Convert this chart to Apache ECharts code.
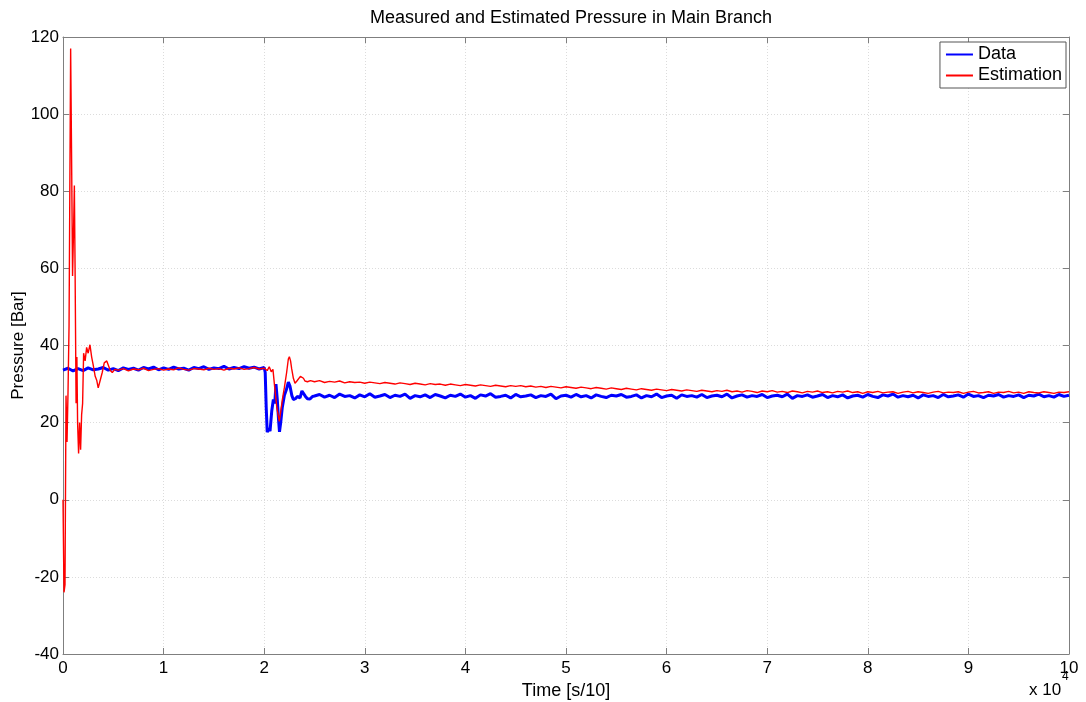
<!DOCTYPE html>
<html>
<head>
<meta charset="utf-8">
<script src="https://cdn.jsdelivr.net/npm/echarts@6/dist/echarts.min.js"></script>
<style>
  html, body { margin: 0; padding: 0; background: #fff; }
  #chart { width: 1086px; height: 702px; }
</style>
</head>
<body>
<div id="chart"></div>
<script>
// sample step for the regular stretches [s/10]
const STEP = 500;

// measured data: steady part before the switch (t = 0 .. 20000)
const dataSteadyA = [33.6, 34.1, 33.4, 34.0, 33.5, 34.2, 33.7, 33.9, 34.3, 33.6, 34.0, 33.5, 34.2, 33.8,
  34.1, 33.6, 34.3, 33.9, 34.4, 33.7, 34.2, 33.8, 34.4, 33.9, 34.1, 33.6, 34.3, 34.0, 34.5, 33.8, 34.2,
  34.0, 34.6, 33.9, 34.3, 34.0, 34.5, 34.1, 34.4, 33.9, 34.3];

// measured data: transient around t = 2e4
const dataTransT = [20100, 20200, 20300, 20450, 20580, 20750, 20910, 21050, 21170, 21300, 21420, 21520,
  21640, 21800, 22000, 22200, 22400, 22560, 22750, 22900, 23100, 23300, 23560, 23750, 23890, 24100,
  24300, 24550, 24800];
const dataTransP = [33.0, 24, 17.5, 18.5, 17.8, 23, 26, 25, 30, 26, 21, 17.6,
  20, 24, 27, 28.5, 30.5, 29.5, 27, 26, 26.2, 26.8, 26.4, 28.2, 28, 26.8,
  26.2, 26.1, 26.8];

// measured data: steady part after the switch (t = 25000 .. 100000)
const dataSteadyB = [26.9, 27.3, 26.6, 27.1, 26.5, 27.4, 26.8, 27.0, 26.4, 27.2, 26.7, 27.5, 26.6, 26.9, 27.3, 26.5, 27.1, 26.8, 27.4, 26.3,
  27.0, 26.7, 27.2, 26.5, 27.3, 26.9, 26.4, 27.1, 26.8, 27.4, 26.6, 27.0, 26.3, 27.2, 26.9, 27.5, 26.6, 26.8, 27.1, 26.4,
  27.3, 26.7, 26.9, 27.2, 26.5, 27.0, 26.8, 27.4, 26.2, 26.9, 27.1, 26.6, 27.3, 26.7, 27.0, 26.4, 27.2, 26.8, 26.5, 27.1,
  26.9, 27.3, 26.6, 26.8, 27.2, 26.4, 27.0, 26.7, 27.4, 26.5, 26.9, 27.1, 26.3, 27.2, 26.8, 27.0, 26.6, 27.3, 26.5, 26.9,
  27.1, 26.7, 27.4, 26.4, 26.9, 27.2, 26.6, 27.0, 26.8, 27.3, 26.5, 26.9, 27.1, 26.7, 27.4, 26.3, 27.0, 26.8, 27.2, 26.6,
  26.9, 27.3, 26.5, 27.0, 26.7, 27.2, 26.4, 26.9, 27.1, 26.6, 27.3, 26.8, 26.5, 27.2, 26.9, 27.4, 26.6, 27.0, 26.7, 27.1,
  26.4, 27.2, 26.8, 27.0, 26.5, 27.3, 26.7, 26.9, 27.2, 26.6, 27.4, 26.8, 27.0, 26.5, 27.1, 26.9, 27.3, 26.6, 27.0, 26.8,
  27.2, 26.5, 27.1, 26.9, 27.4, 26.7, 27.0, 26.6, 27.3, 26.8, 27.1];

// estimation: start-up oscillation
const estStartT = [0, 100, 200, 300, 400, 500, 600, 760, 850, 950, 1050, 1130, 1200, 1300, 1380, 1450,
  1550, 1650, 1750, 1850, 1950, 2050, 2200, 2350, 2500, 2680, 2850, 3000, 3200, 3350, 3500, 3700,
  3900, 4100, 4350, 4500, 4700, 4900, 5150];
const estStartP = [0, -24, -22, 27, 15, 28, 45, 117, 90, 58, 70, 81.5, 60, 25, 37, 20,
  12, 20, 13, 22, 25, 38, 36, 39.5, 38, 40.2, 37, 35, 32, 31, 29, 31,
  33, 35.5, 36, 35.5, 33.5, 33, 33.8];

// estimation: steady part (t = 5500 .. 20000)
const estSteadyA = [33.6, 34.0, 33.4, 33.9, 33.7, 34.1, 33.5, 33.8, 34.0, 33.6, 33.9, 33.7, 34.2, 33.8, 33.6,
  34.0, 33.9, 33.7, 34.1, 33.8, 34.0, 33.6, 34.1, 33.9, 34.2, 33.8, 34.0, 34.3, 33.9, 34.1];

// estimation: transient around t = 2e4
const estTransT = [20300, 20500, 20700, 20870, 21050, 21250, 21500, 21650, 21800, 22000, 22230, 22400,
  22500, 22620, 22730, 22900, 23060, 23250, 23400, 23600, 23720, 23900, 24050, 24300, 24600];
const estTransP = [33.5, 34.5, 33.2, 33.8, 29, 24, 20.3, 23, 25.9, 29, 33, 36.5,
  37.1, 36, 34, 31.5, 30.2, 30.8, 31.2, 32, 32.4, 31.5, 30.8, 30.6, 30.9];

// estimation: slow decay (t = 25000 .. 100000)
const estSteadyB = [30.6, 30.9, 30.4, 30.7, 30.5, 30.8, 30.3, 30.6, 30.4, 30.5,
  30.2, 30.5, 30.3, 30.1, 30.4, 30.2, 30.0, 30.3, 30.1, 29.9,
  30.2, 30.0, 29.8, 30.1, 29.9, 30.0, 29.7, 30.0, 29.8, 29.6,
  29.9, 29.7, 29.5, 29.8, 29.6, 29.4, 29.7, 29.5, 29.3, 29.6,
  29.4, 29.6, 29.3, 29.5, 29.2, 29.4, 29.1, 29.4, 29.2, 29.0,
  29.3, 29.1, 28.9, 29.2, 29.0, 28.8, 29.1, 28.9, 28.7, 29.0,
  28.8, 28.6, 28.9, 28.7, 28.5, 28.8, 28.6, 28.4, 28.7, 28.5,
  28.3, 28.6, 28.4, 28.2, 28.5, 28.3, 28.1, 28.4, 28.2, 28.0,
  28.3, 28.1, 28.4, 28.0, 28.2, 27.9, 28.3, 28.1, 27.8, 28.2,
  28.0, 28.3, 27.9, 28.1, 27.8, 28.2, 28.0, 27.7, 28.1, 27.9,
  28.2, 27.8, 28.0, 27.7, 28.1, 27.9, 28.2, 27.8, 28.0, 27.6,
  28.0, 27.8, 28.1, 27.7, 27.9, 28.0, 27.6, 27.9, 28.1, 27.7,
  28.0, 27.8, 27.6, 27.9, 28.1, 27.7, 27.9, 27.8, 28.0, 27.6,
  27.9, 28.1, 27.7, 27.8, 28.0, 27.6, 27.9, 27.8, 28.1, 27.7,
  27.9, 27.6, 28.0, 27.8, 27.7, 28.0, 27.8, 27.6, 27.9, 27.8, 28.0];

const yTicks = { min: -40, max: 120, interval: 20 };
const xTicks = { min: 0, max: 100000, interval: 10000 };

function sampled(t0, values) {
  return values.map((v, i) => [t0 + i * STEP, v]);
}
function paired(ts, ps) {
  return ts.map((t, i) => [t, ps[i]]);
}

const measured = [].concat(sampled(0, dataSteadyA), paired(dataTransT, dataTransP), sampled(25000, dataSteadyB));
const estimated = [].concat(paired(estStartT, estStartP), sampled(5500, estSteadyA), paired(estTransT, estTransP), sampled(25000, estSteadyB));

const FONT = '"Liberation Sans", Arial, sans-serif';
const gridLine = { show: true, lineStyle: { color: '#dcdcdc', type: [1, 2], width: 1 } };
const axisGray = '#7f7f7f';
const tick = { show: true, inside: true, length: 6, lineStyle: { color: axisGray } };

const chart = echarts.init(document.getElementById('chart'), null, { renderer: 'canvas' });

chart.setOption({
  animation: false,
  backgroundColor: '#fff',
  textStyle: { fontFamily: FONT },
  title: {
    text: 'Measured and Estimated Pressure in Main Branch',
    left: 566, top: 4, textAlign: 'center',
    textStyle: { fontFamily: FONT, fontSize: 18, fontWeight: 'normal', color: '#000' }
  },
  grid: { left: 63, right: 17, top: 37, bottom: 48, show: false, outerBoundsMode: 'none', containLabel: false },
  legend: {
    orient: 'vertical', right: 20, top: 42,
    backgroundColor: '#fff', borderColor: '#555', borderWidth: 1,
    padding: [2, 4, 2, 6], itemGap: 0,
    itemWidth: 27, itemHeight: 2, icon: 'rect',
    textStyle: { fontFamily: FONT, fontSize: 18, lineHeight: 21, color: '#000' },
    data: ['Data', 'Estimation']
  },
  xAxis: [{
    type: 'value', min: xTicks.min, max: xTicks.max, interval: xTicks.interval,
    name: 'Time [s/10]', nameLocation: 'middle', nameGap: 20,
    nameTextStyle: { fontFamily: FONT, fontSize: 18, color: '#000' },
    axisLine: { show: true, onZero: false, lineStyle: { color: axisGray } },
    axisTick: tick,
    axisLabel: { fontFamily: FONT, fontSize: 17, color: '#000', margin: 6,
      formatter: v => String(v / 10000) },
    splitLine: gridLine
  }, {
    type: 'value', position: 'top', min: xTicks.min, max: xTicks.max, interval: xTicks.interval,
    axisLine: { show: true, onZero: false, lineStyle: { color: axisGray } },
    axisTick: tick,
    axisLabel: { show: false }, splitLine: { show: false }
  }],
  yAxis: [{
    type: 'value', min: yTicks.min, max: yTicks.max, interval: yTicks.interval,
    name: 'Pressure [Bar]', nameLocation: 'middle', nameGap: 36, nameRotate: 90,
    nameMoveOverlap: false,
    nameTextStyle: { fontFamily: FONT, fontSize: 17, color: '#000' },
    axisLine: { show: true, onZero: false, lineStyle: { color: axisGray } },
    axisTick: tick,
    axisLabel: { fontFamily: FONT, fontSize: 17, color: '#000', margin: 4 },
    splitLine: gridLine
  }, {
    type: 'value', position: 'right', min: yTicks.min, max: yTicks.max, interval: yTicks.interval,
    axisLine: { show: true, onZero: false, lineStyle: { color: axisGray } },
    axisTick: tick,
    axisLabel: { show: false }, splitLine: { show: false }
  }],
  graphic: [{
    type: 'text', left: 1029, top: 682, z: 10,
    style: { text: 'x 10', fontFamily: FONT, fontSize: 17, fill: '#000' }
  }, {
    type: 'text', left: 1062, top: 671, z: 10,
    style: { text: '4', fontFamily: FONT, fontSize: 12, fill: '#000' }
  }],
  series: [{
    name: 'Data', type: 'line', data: measured, xAxisIndex: 0, yAxisIndex: 0,
    showSymbol: false, symbol: 'none', color: '#0000ff',
    lineStyle: { color: '#0000ff', width: 3 }, z: 2
  }, {
    name: 'Estimation', type: 'line', data: estimated, xAxisIndex: 0, yAxisIndex: 0,
    showSymbol: false, symbol: 'none', color: '#ff0000',
    lineStyle: { color: '#ff0000', width: 1.4 }, z: 3
  }]
});
</script>
</body>
</html>
